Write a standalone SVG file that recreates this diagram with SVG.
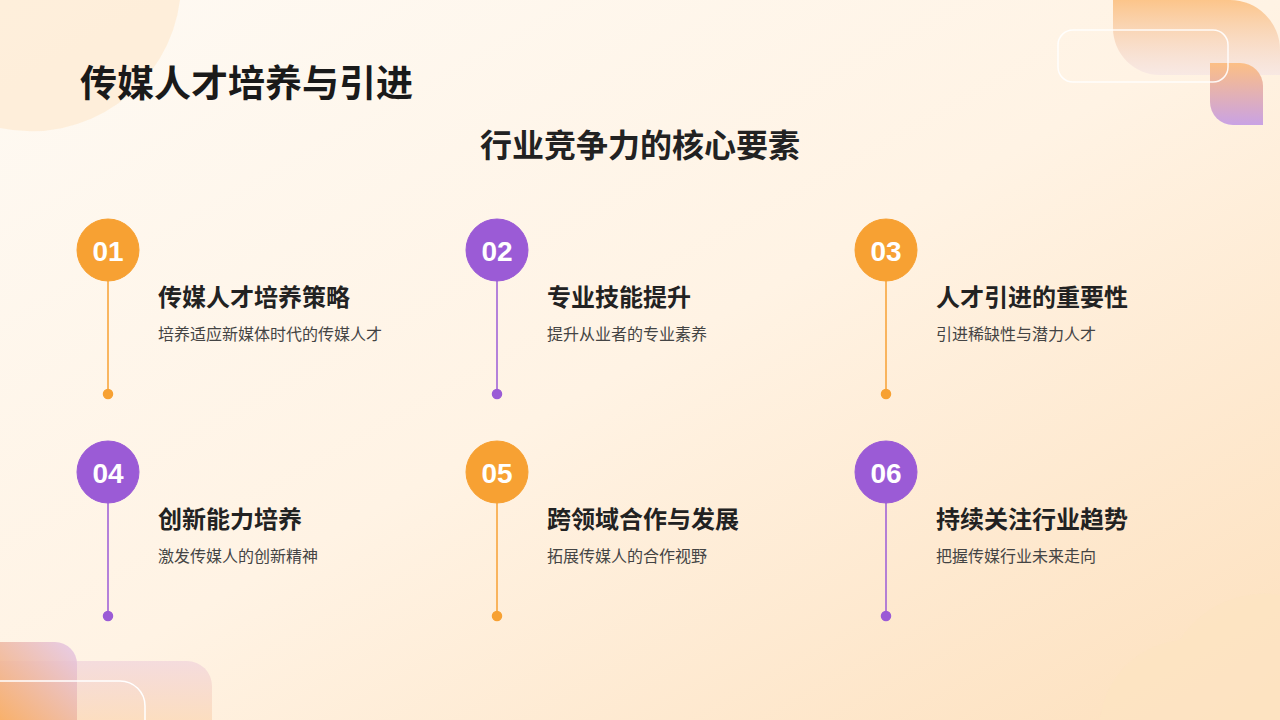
<svg xmlns="http://www.w3.org/2000/svg" width="1280" height="720" viewBox="0 0 1280 720">
<defs>
<linearGradient id="bg" x1="0" y1="0" x2="1" y2="1"><stop offset="0" stop-color="#fefaf4"/><stop offset="0.5" stop-color="#fff3e4"/><stop offset="1" stop-color="#fde0bd"/></linearGradient>
<linearGradient id="g1" x1="0" y1="0" x2="0" y2="1"><stop offset="0" stop-color="#fcc58a"/><stop offset="1" stop-color="#f3e2e4" stop-opacity="0.6"/></linearGradient>
<linearGradient id="g2" x1="0" y1="0" x2="0" y2="1"><stop offset="0" stop-color="#fcbf85"/><stop offset="1" stop-color="#c9a2e4"/></linearGradient>
<linearGradient id="g3" x1="1" y1="0" x2="0" y2="1"><stop offset="0" stop-color="#e3c6ea"/><stop offset="1" stop-color="#f8a95c"/></linearGradient>
<linearGradient id="g4" x1="0" y1="0" x2="0" y2="1"><stop offset="0" stop-color="#f2d6dc"/><stop offset="1" stop-color="#fbd9b8"/></linearGradient>
<style>
.t{font-family:"Noto Sans CJK SC","Liberation Sans",sans-serif;}
.h{font-size:24px;font-weight:bold;fill:#222;}
.s{font-size:16px;fill:#444;}
.n{font-family:"Liberation Sans",sans-serif;font-size:28px;font-weight:bold;fill:#fff;}
.o{fill:#f7a133;stroke:#f7a133;}
.p{fill:#9b5bd6;stroke:#9b5bd6;}
</style>
</defs>
<rect width="1280" height="720" fill="url(#bg)"/>
<path d="M0 0H180A150 150 0 0 1 0 128Z" fill="#fde9d0" opacity="0.7"/>
<path d="M1100 720A90 90 0 0 1 1180 640A100 100 0 0 1 1280 595V720Z" fill="#fde3c2" opacity="0.8"/>
<path d="M1113 0H1230A50 50 0 0 1 1280 50V75H1160A47 47 0 0 1 1113 28Z" fill="url(#g1)"/>
<path d="M1210 63H1240A23 23 0 0 1 1263 86V125H1233A23 23 0 0 1 1210 102Z" fill="url(#g2)"/>
<rect x="1058" y="30" width="170" height="52" rx="15" fill="none" stroke="#fff" stroke-width="1.5" opacity="0.9"/>
<path d="M0 661H187A25 25 0 0 1 212 686V720H0Z" fill="url(#g4)" opacity="0.8"/>
<path d="M0 642H55A22 22 0 0 1 77 664V720H0Z" fill="url(#g3)" opacity="0.85"/>
<path d="M0 681H120A25 25 0 0 1 145 706V720" fill="none" stroke="#fff" stroke-width="1.5"/>
<text class="t" x="80" y="97" font-size="37" font-weight="bold" fill="#1a1a1a">传媒人才培养与引进</text>
<text class="t" x="640" y="157" font-size="32" font-weight="bold" fill="#222" text-anchor="middle">行业竞争力的核心要素</text>
<g id="connectors" stroke-width="1.5">
<line x1="108" y1="281" x2="108" y2="394" class="o"/><circle cx="108" cy="394" r="4.5" class="o"/>
<line x1="497" y1="281" x2="497" y2="394" class="p"/><circle cx="497" cy="394" r="4.5" class="p"/>
<line x1="886" y1="281" x2="886" y2="394" class="o"/><circle cx="886" cy="394" r="4.5" class="o"/>
<line x1="108" y1="503" x2="108" y2="616" class="p"/><circle cx="108" cy="616" r="4.5" class="p"/>
<line x1="497" y1="503" x2="497" y2="616" class="o"/><circle cx="497" cy="616" r="4.5" class="o"/>
<line x1="886" y1="503" x2="886" y2="616" class="p"/><circle cx="886" cy="616" r="4.5" class="p"/>
</g>
<g id="n1"><circle cx="108" cy="250" r="31" class="o"/><text class="n" x="108" y="261" text-anchor="middle">01</text><text class="t h" x="158" y="306">传媒人才培养策略</text><text class="t s" x="158" y="340">培养适应新媒体时代的传媒人才</text></g>
<g id="n2"><circle cx="497" cy="250" r="31" class="p"/><text class="n" x="497" y="261" text-anchor="middle">02</text><text class="t h" x="547" y="306">专业技能提升</text><text class="t s" x="547" y="340">提升从业者的专业素养</text></g>
<g id="n3"><circle cx="886" cy="250" r="31" class="o"/><text class="n" x="886" y="261" text-anchor="middle">03</text><text class="t h" x="936" y="306">人才引进的重要性</text><text class="t s" x="936" y="340">引进稀缺性与潜力人才</text></g>
<g id="n4"><circle cx="108" cy="472" r="31" class="p"/><text class="n" x="108" y="483" text-anchor="middle">04</text><text class="t h" x="158" y="528">创新能力培养</text><text class="t s" x="158" y="562">激发传媒人的创新精神</text></g>
<g id="n5"><circle cx="497" cy="472" r="31" class="o"/><text class="n" x="497" y="483" text-anchor="middle">05</text><text class="t h" x="547" y="528">跨领域合作与发展</text><text class="t s" x="547" y="562">拓展传媒人的合作视野</text></g>
<g id="n6"><circle cx="886" cy="472" r="31" class="p"/><text class="n" x="886" y="483" text-anchor="middle">06</text><text class="t h" x="936" y="528">持续关注行业趋势</text><text class="t s" x="936" y="562">把握传媒行业未来走向</text></g>
</svg>
